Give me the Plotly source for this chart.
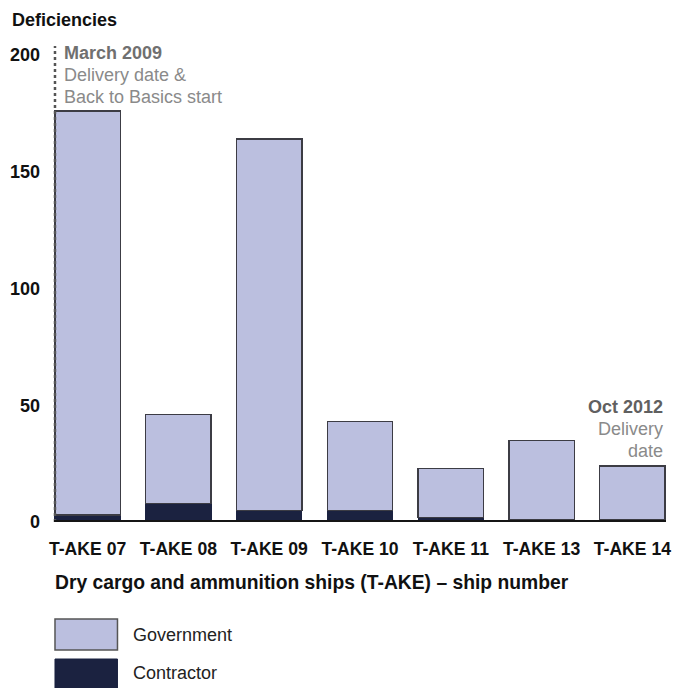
import plotly.graph_objects as go

# ---- data ----
ships = ["T-AKE 07", "T-AKE 08", "T-AKE 09", "T-AKE 10", "T-AKE 11", "T-AKE 13", "T-AKE 14"]
contractor = [3, 8, 5, 5, 2, 1, 1]
government = [173, 38, 159, 38, 21, 34, 23]
series_names = ["Government", "Contractor"]
y_ticks = [0, 50, 100, 150, 200]

# ---- style ----
GOV = "#bbbfdf"
CON = "#1b2240"
FONT = "Liberation Sans, Arial, Helvetica, sans-serif"
W, H = 680, 688
L, R, T, B = 54, 671, 55, 522


def px(x):
    return (x - L) / (R - L)


def py(y):
    return (B - y) / (B - T)


fig = go.Figure()
fig.add_trace(go.Bar(x=ships, y=contractor, name=series_names[1],
                     marker=dict(color=CON, line=dict(color=CON, width=1))))
fig.add_trace(go.Bar(x=ships, y=government, name=series_names[0],
                     marker=dict(color=GOV, line=dict(color="#3c3c44", width=1.5))))

fig.update_layout(
    width=W, height=H,
    margin=dict(l=L, r=W - R, t=T, b=H - B, pad=0),
    barmode="stack", bargap=0.28,
    paper_bgcolor="white", plot_bgcolor="white",
    showlegend=False,
    font=dict(family=FONT, size=18, color="#111"),
)
fig.update_xaxes(type="category", range=[-0.37, 6.37], showgrid=False, zeroline=False,
                 showline=False, ticks="", ticklabelstandoff=14,
                 tickfont=dict(size=17.6, weight="bold", color="#111"))
fig.update_yaxes(range=[0, 200], tickvals=y_ticks, showgrid=False, zeroline=False,
                 showline=False, ticks="", ticklabelstandoff=13,
                 tickfont=dict(size=18, weight="bold", color="#111"))

shapes = []
# dotted delivery line
shapes.append(dict(type="line", xref="paper", yref="paper", x0=px(55), x1=px(55),
                   y0=0, y1=py(46), line=dict(color="#555", width=2.5, dash="dot")))
# baseline
shapes.append(dict(type="line", xref="paper", yref="y", x0=0, x1=1, y0=0, y1=0,
                   line=dict(color="#151515", width=4)))
# legend swatches
shapes.append(dict(type="rect", xref="paper", yref="paper", x0=px(55), x1=px(118),
                   y0=py(619), y1=py(650), fillcolor=GOV, line=dict(color="#555", width=1.5)))
shapes.append(dict(type="rect", xref="paper", yref="paper", x0=px(55), x1=px(118),
                   y0=py(659), y1=py(692), fillcolor=CON, line=dict(color=CON, width=1)))
fig.update_layout(shapes=shapes)

ann = []


def text(x, y, s, anchor="left", size=18, color="#111", bold=False):
    ann.append(dict(xref="paper", yref="paper", x=px(x), y=py(y), text=s, showarrow=False,
                    xanchor=anchor, yanchor="middle",
                    font=dict(family=FONT, size=size, color=color,
                              weight="bold" if bold else "normal")))


text(10, 20, "Deficiencies", bold=True)
text(62, 53, "March 2009", color="#707070", bold=True)
text(62, 75, "Delivery date &", color="#8a8a8a")
text(62, 97, "Back to Basics start", color="#8a8a8a")
text(670, 407, "Oct 2012", anchor="right", color="#606060", bold=True)
text(670, 429, "Delivery", anchor="right", color="#8a8a8a")
text(670, 451, "date", anchor="right", color="#8a8a8a")
text(53, 582, "Dry cargo and ammunition ships (T-AKE) \u2013 ship number", size=19.3, bold=True)
text(132, 635, series_names[0], color="#222")
text(132, 673, series_names[1], color="#222")
fig.update_layout(annotations=ann)

fig.write_html("out.html", config={"displayModeBar": False},
               post_script="document.body.style.margin='0';document.body.style.overflow='hidden';")
